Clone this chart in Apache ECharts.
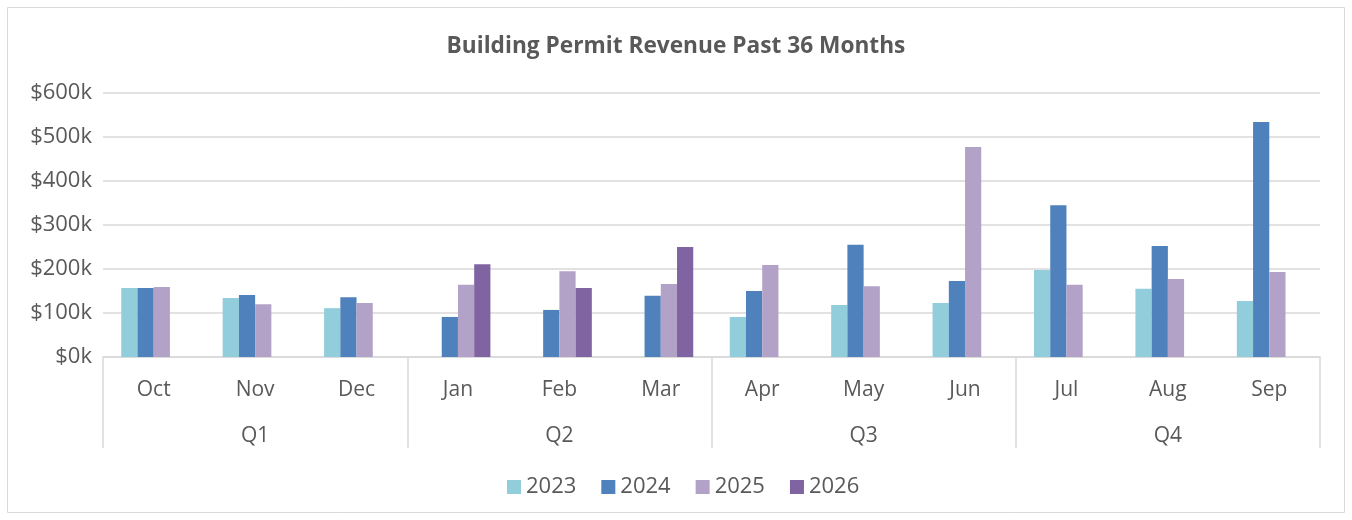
<!DOCTYPE html>
<html>
<head>
<meta charset="utf-8">
<script src="https://cdn.jsdelivr.net/npm/echarts@6/dist/echarts.min.js"></script>
<style>
  html, body { margin: 0; padding: 0; background: #fff; }
  #main { width: 1352px; height: 520px; }
</style>
</head>
<body>
<div id="main"></div>
<script>
// values in $k
var months = ['Oct', 'Nov', 'Dec', 'Jan', 'Feb', 'Mar', 'Apr', 'May', 'Jun', 'Jul', 'Aug', 'Sep']
var quarters = ['Q1', 'Q2', 'Q3', 'Q4']
var years = ['2023', '2024', '2025', '2026']
var yTicks = [0, 100, 200, 300, 400, 500, 600]

var rev2023 = [157, 134, 111, null, null, null, 91, 118, 123, 198, 155, 127]
var rev2024 = [157, 141, 136, 91, 107, 139, 150, 255, 173, 345, 252, 534]
var rev2025 = [159, 120, 123, 164, 195, 166, 209, 161, 477, 164, 177, 193]
var rev2026 = [null, null, null, 211, 157, 250, null, null, null, null, null, null]

var colors = ['#92CDDC', '#4F81BD', '#B3A2C7', '#8064A2']
var txt = '#595959'
var lineCol = '#D9D9D9'
var font = 'Open Sans'

var myChart = echarts.init(document.getElementById('main'))

var allData = [rev2023, rev2024, rev2025, rev2026]
var series = years.map(function (y, i) {
  return {
    name: y,
    type: 'bar',
    data: allData[i],
    barGap: '0%',
    barCategoryGap: '36%',
    itemStyle: { color: colors[i] }
  }
})

var option = {
  animation: false,
  color: colors,
  textStyle: { fontFamily: font },
  title: {
    text: 'Building Permit Revenue Past 36 Months',
    left: 'center',
    top: 30,
    textStyle: { color: txt, fontSize: 22.7, fontWeight: 'bold', fontFamily: font }
  },
  legend: {
    bottom: 17,
    left: 502,
    icon: 'rect',
    itemWidth: 14,
    itemHeight: 14,
    itemGap: 25,
    textStyle: { color: txt, fontSize: 22, fontFamily: font },
    data: years
  },
  graphic: [{
    type: 'rect',
    shape: { x: 7.5, y: 7.5, width: 1337, height: 505 },
    style: { fill: 'none', stroke: lineCol, lineWidth: 1 }
  }],
  grid: { left: 103, right: 32, top: 93, bottom: 163 },
  xAxis: [{
    type: 'category',
    data: months,
    axisLine: { lineStyle: { color: lineCol, width: 1.5 } },
    axisTick: { show: false },
    axisLabel: { color: txt, fontSize: 21, margin: 23, fontFamily: font }
  }, {
    type: 'category',
    data: quarters,
    position: 'bottom',
    axisLine: { show: false },
    axisTick: { show: true, length: 91, interval: 0, lineStyle: { color: lineCol, width: 1.5 } },
    axisLabel: { color: txt, fontSize: 21, margin: 69, fontFamily: font },
    splitLine: { show: false }
  }],
  yAxis: {
    type: 'value',
    min: yTicks[0],
    max: yTicks[yTicks.length - 1],
    interval: 100,
    axisLine: { show: false },
    axisTick: { show: false },
    splitLine: { lineStyle: { color: lineCol, width: 1.5 } },
    axisLabel: {
      color: txt, fontSize: 22, margin: 11, fontFamily: font,
      formatter: function (v) { return '$' + v + 'k' }
    }
  },
  series: series
}

myChart.setOption(option)
</script>
</body>
</html>
